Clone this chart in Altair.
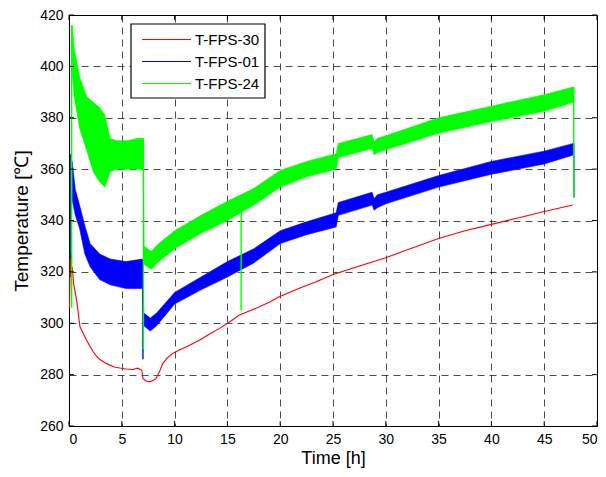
import altair as alt
import pandas as pd

SERIES = ["T-FPS-30", "T-FPS-01", "T-FPS-24"]
COLORS = ["#ff0000", "#0000ff", "#00ff00"]

# T-FPS-30 (red): thin line
red_t = [0.05, 0.12, 0.2, 0.3, 0.45, 0.72, 1.04, 1.35, 1.66, 2.0, 2.29, 2.6, 2.92, 3.4,
         3.86, 4.3, 4.8, 5.4, 6.05, 6.5, 6.9, 7.0, 7.3, 7.63, 8.0, 8.25, 8.6, 8.88, 9.3,
         9.82, 10.4, 11.08, 12.34, 13.3, 14.22, 15.2, 16.1, 17.0, 17.98, 19.0, 19.87,
         21.75, 23.4, 25.0, 27.5, 30.0, 32.5, 35.0, 37.5, 40.0, 42.5, 45.0, 47.7]
red_v = [306, 327, 318, 322, 315, 309, 298.6, 296, 293.4, 291, 288.9, 287.2, 285.9, 284.6,
         283.7, 283, 282.6, 282.2, 282, 282.5, 281.7, 278.5, 277.5, 277.2, 277.8, 278.5, 281.5,
         284.3, 286.5, 288.2, 289.5, 290.8, 293.4, 295.8, 297.9, 300.5, 303.1, 304.7, 306.3,
         308.3, 310.2, 313.5, 316.2, 319, 322.3, 325.5, 329.3, 333, 336, 338.5, 341, 343.5, 346]

# T-FPS-01 (blue): noisy band, lower / upper envelope
blue_t = [0.3, 0.6, 1.0, 1.5, 2.0, 2.9, 3.9, 5.4, 6.95, 7.08, 7.7, 8.3, 10.0, 12.5, 15.0,
          17.5, 20.0, 22.5, 25.3, 25.5, 28.7, 28.9, 29.2, 30.0, 35.0, 40.0, 45.0, 47.75]
blue_lo = [348, 342, 337, 327, 322, 317, 315, 313.5, 313.5, 299, 297, 299, 307.5, 313, 318,
           323.5, 331, 334.5, 337.5, 342, 346, 344, 345, 346.5, 353, 358, 362, 365.5]
blue_hi = [363, 352, 346, 338, 331, 327, 325, 324, 325, 304, 302, 304, 312, 318, 324,
           329, 336, 339.5, 343, 347, 351, 348.5, 350, 351, 357.5, 363, 367, 370]

# T-FPS-24 (green): noisy band, lower / upper envelope
green_t = [0.3, 0.5, 1.0, 1.7, 2.3, 2.9, 3.4, 3.9, 4.5, 5.5, 6.5, 7.03, 7.1, 7.8, 8.5, 10.0,
           12.5, 15.0, 17.5, 20.0, 22.5, 25.3, 25.5, 28.7, 28.9, 29.2, 30.0, 35.0, 40.0,
           45.0, 47.75]
green_lo = [398, 388, 376, 367, 359, 355, 353, 359, 360, 360, 360, 360, 323, 321, 324, 329,
            335, 340, 346, 353, 357, 360, 364.5, 368, 365.5, 366.5, 367.5, 374, 378.5,
            382.5, 386]
green_hi = [416, 407, 396, 388, 386, 384, 381, 372, 371, 371, 372, 372, 330, 328, 331, 336,
            342, 347.5, 352.5, 359.5, 363, 366, 370, 373.5, 370.5, 372, 373, 380, 384.5,
            389, 392]

# isolated drops / spikes (series, time, low, high)
spike_series = ["T-FPS-01", "T-FPS-01", "T-FPS-01", "T-FPS-24", "T-FPS-24", "T-FPS-24", "T-FPS-24"]
spike_t = [0.18, 7.0, 47.8, 0.25, 7.05, 16.3, 47.8]
spike_lo = [325, 286, 349, 306, 290, 305, 349]
spike_hi = [366, 325, 370, 416, 372, 346, 392]

x_ticks = list(range(0, 51, 5))
y_ticks = list(range(260, 421, 20))

W, H = 528, 411
FONT = "Liberation Sans"

red_df = pd.DataFrame({"series": SERIES[0], "t": red_t, "v": red_v})
blue_df = pd.DataFrame({"series": SERIES[1], "t": blue_t, "lo": blue_lo, "hi": blue_hi})
green_df = pd.DataFrame({"series": SERIES[2], "t": green_t, "lo": green_lo, "hi": green_hi})
spk = pd.DataFrame({"series": spike_series, "t": spike_t, "lo": spike_lo, "hi": spike_hi})
xt = pd.DataFrame({"t": x_ticks})
yt = pd.DataFrame({"v": y_ticks})

xs = alt.Scale(domain=[0, 50], nice=False, zero=False)
ys = alt.Scale(domain=[260, 420], nice=False, zero=False)
color = alt.Color("series:N", scale=alt.Scale(domain=SERIES, range=COLORS), legend=None)

x_axis = alt.Axis(values=x_ticks, title="Time [h]", labelFontSize=14, titleFontSize=18,
                  labelPadding=6, titlePadding=3, tickSize=0, grid=True)
y_axis = alt.Axis(values=y_ticks, title="Temperature [℃]", labelFontSize=14, titleFontSize=19,
                  labelPadding=6, titlePadding=8, tickSize=0, grid=True)

red_line = alt.Chart(red_df).mark_line(strokeWidth=1.1).encode(
    x=alt.X("t:Q", scale=xs, axis=x_axis),
    y=alt.Y("v:Q", scale=ys, axis=y_axis),
    color=color,
    order="t:Q",
)

def band(df):
    return alt.Chart(df).mark_area(opacity=1, strokeWidth=0.6).encode(
        x=alt.X("t:Q", scale=xs),
        y=alt.Y("lo:Q", scale=ys),
        y2="hi:Q",
        color=color,
        stroke=alt.Stroke("series:N", scale=alt.Scale(domain=SERIES, range=COLORS), legend=None),
    )

def spikes(name):
    return alt.Chart(spk[spk["series"] == name]).mark_rule(strokeWidth=1.4).encode(
        x=alt.X("t:Q", scale=xs),
        y=alt.Y("lo:Q", scale=ys),
        y2="hi:Q",
        color=color,
    )

tick_b = alt.Chart(xt).mark_rule(color="black").encode(
    x=alt.X("t:Q", scale=xs), y=alt.value(H), y2=alt.value(H - 5))
tick_t = alt.Chart(xt).mark_rule(color="black").encode(
    x=alt.X("t:Q", scale=xs), y=alt.value(0), y2=alt.value(5))
tick_l = alt.Chart(yt).mark_rule(color="black").encode(
    y=alt.Y("v:Q", scale=ys), x=alt.value(0), x2=alt.value(5))
tick_r = alt.Chart(yt).mark_rule(color="black").encode(
    y=alt.Y("v:Q", scale=ys), x=alt.value(W), x2=alt.value(W - 5))

# legend box (pixel layout of the legend only)
LX0, LX1, LY0, LY1 = 62, 196, 9, 83
leg_box = alt.Chart(pd.DataFrame({"k": [0]})).mark_rect(
    fill="white", stroke="black", strokeWidth=1.2).encode(
    x=alt.value(LX0), x2=alt.value(LX1), y=alt.value(LY0), y2=alt.value(LY1))
leg_layers = [leg_box]
for i, name in enumerate(SERIES):
    ly = 24.5 + 22 * i
    d = pd.DataFrame({"series": [name], "row": [i]})
    leg_layers.append(alt.Chart(d).mark_rect(fill=COLORS[i], strokeWidth=0).encode(
        x=alt.value(73), x2=alt.value(122), y=alt.value(ly - 0.6), y2=alt.value(ly + 0.6)))
    leg_layers.append(alt.Chart(d).mark_text(
        align="left", baseline="middle", font=FONT, fontSize=15, color="black").encode(
        x=alt.value(126), y=alt.value(ly), text="series:N"))

chart = alt.layer(
    red_line, band(blue_df), spikes("T-FPS-01"), band(green_df), spikes("T-FPS-24"),
    tick_b, tick_t, tick_l, tick_r, *leg_layers,
).properties(
    width=W, height=H,
    autosize=alt.AutoSizeParams(type="none"),
    padding={"left": 61, "top": 7, "right": 1, "bottom": 43},
    background="white",
).configure_view(
    stroke="black", strokeWidth=1,
).configure_axis(
    labelFont=FONT, titleFont=FONT, labelColor="black", titleColor="black",
    titleFontWeight="normal", domainColor="black", domainWidth=1,
    gridColor="black", gridOpacity=0.7, gridDash=[7, 5], gridWidth=1,
)

chart.save("out.html", embed_options={"renderer": "svg", "actions": False})
